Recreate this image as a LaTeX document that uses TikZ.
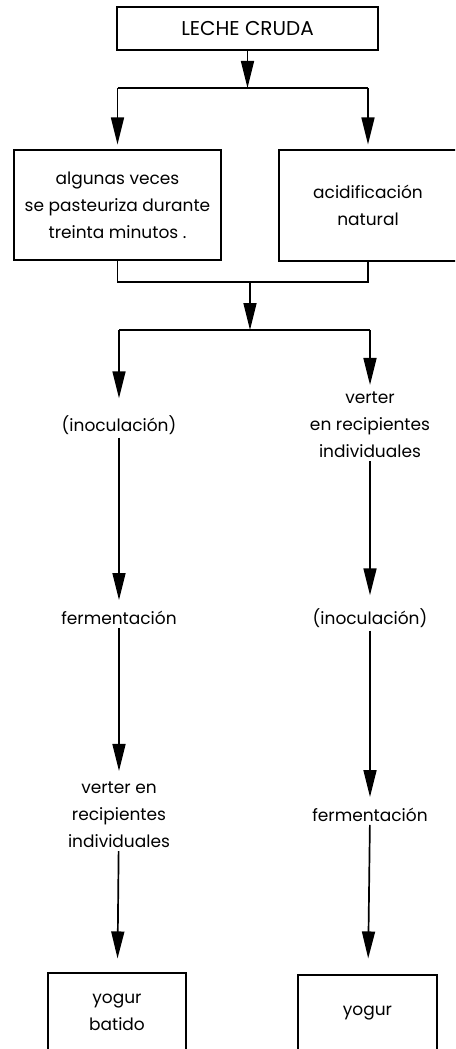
\documentclass[tikz,border=0pt]{standalone}
\usepackage{fontspec}
\setmainfont{Poppins}
\usetikzlibrary{arrows.meta,calc}
\tikzset{
  box/.style={draw, line width=1.1pt, align=center, inner sep=0pt},
  lbl/.style={align=center, inner sep=3pt},
  flow/.style={line width=1.7pt, -{Triangle[length=27pt,width=13pt]}},
  bar/.style={line width=1.7pt}
}
\begin{document}
\begin{tikzpicture}[x=1pt, y=-1pt, font=\fontsize{17}{27}\selectfont]
\useasboundingbox (0,0) rectangle (455,1049);
\clip (0,0) rectangle (455,1049);
% top and first split
\node[box, minimum width=261, minimum height=43, font=\fontsize{20}{24}\selectfont] (leche) at (247.5,28.5) {LECHE CRUDA};
\node[box, minimum width=207, minimum height=110] (pasteur) at (117.5,205) {algunas veces\\se pasteuriza durante\\treinta minutos .};
\node[box, minimum width=178, minimum height=111] (acid) at (368,205.5) {acidificación\\natural};
\coordinate (s1) at (247.5,88);
\coordinate (s1l) at (pasteur.north |- s1);
\coordinate (s1r) at (acid.north |- s1);
\draw[flow] (leche) -- (s1);
\draw[bar] (s1l) -- (s1r);
\draw[flow, shorten >=5] (s1l) -- (pasteur);
\draw[flow, shorten >=5] (s1r) -- (acid);
% merge and second split
\coordinate (m1) at (pasteur.south |- 0,282);
\coordinate (m2) at (acid.south |- 0,282);
\coordinate (m) at (250,282);
\coordinate (s2) at (250,330);
\draw[bar] (pasteur) -- (m1) -- (m2) -- (acid);
\draw[flow] (m) -- (s2);
% left column
\node[lbl] (inocA) at (119,425) {(inoculación)};
\node[lbl] (fermA) at (119,618) {fermentación};
\node[lbl] (verterA) at (119,815) {verter en\\recipientes\\individuales};
\node[box, minimum width=138, minimum height=78] (yogA) at (117,1012) {yogur\\batido};
% right column
\node[lbl] (verterB) at (370,425) {verter\\en recipientes\\individuales};
\node[lbl] (inocB) at (370,618) {(inoculación)};
\node[lbl] (fermB) at (370,815) {fermentación};
\node[box, minimum width=139, minimum height=76] (yogB) at (367.5,1013) {yogur};
\coordinate (s2l) at (inocA |- s2);
\coordinate (s2r) at (verterB |- s2);
\draw[bar] (s2l) -- (s2r);
\draw[flow, shorten >=14] (s2l) -- (inocA);
\draw[flow, shorten >=4] (s2r) -- (verterB);
\draw[flow, shorten >=8] (inocA) -- (fermA);
\draw[flow, shorten >=8] (fermA) -- (verterA);
\draw[flow, shorten >=14] (verterA) -- (yogA);
\draw[flow, shorten >=10] (verterB) -- (inocB);
\draw[flow, shorten >=8] (inocB) -- (fermB);
\draw[flow, shorten >=16] (fermB) -- (yogB);
\end{tikzpicture}
\end{document}
